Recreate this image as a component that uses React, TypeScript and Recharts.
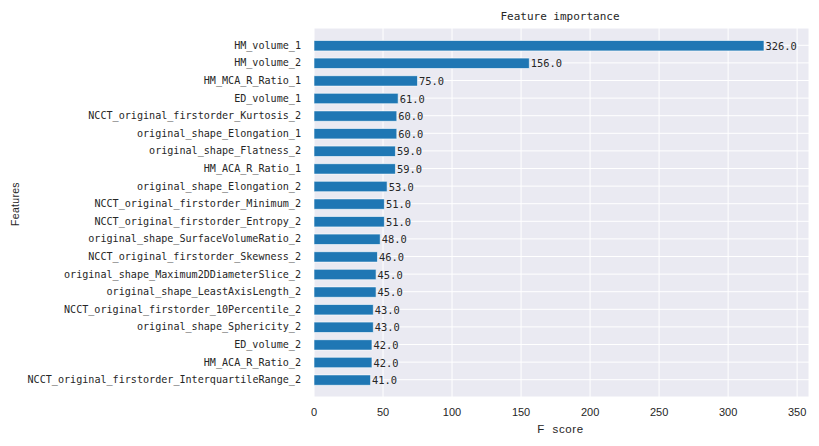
import React from 'react';
import { BarChart, Bar, XAxis, YAxis, CartesianGrid, LabelList, Label } from 'recharts';

const featureNames = [
  'HM_volume_1',
  'HM_volume_2',
  'HM_MCA_R_Ratio_1',
  'ED_volume_1',
  'NCCT_original_firstorder_Kurtosis_2',
  'original_shape_Elongation_1',
  'original_shape_Flatness_2',
  'HM_ACA_R_Ratio_1',
  'original_shape_Elongation_2',
  'NCCT_original_firstorder_Minimum_2',
  'NCCT_original_firstorder_Entropy_2',
  'original_shape_SurfaceVolumeRatio_2',
  'NCCT_original_firstorder_Skewness_2',
  'original_shape_Maximum2DDiameterSlice_2',
  'original_shape_LeastAxisLength_2',
  'NCCT_original_firstorder_10Percentile_2',
  'original_shape_Sphericity_2',
  'ED_volume_2',
  'HM_ACA_R_Ratio_2',
  'NCCT_original_firstorder_InterquartileRange_2',
];

const fScores = [326, 156, 75, 61, 60, 60, 59, 59, 53, 51, 51, 48, 46, 45, 45, 43, 43, 42, 42, 41];

const xTicks = [0, 50, 100, 150, 200, 250, 300, 350];
const xMax = 358.6;

const data = featureNames.map((name, i) => ({ name, score: fScores[i] }));

const MONO = '"DejaVu Sans Mono", monospace';
const SANS = '"Liberation Sans", Arial, sans-serif';
const TEXT = '#262626';

const ValueLabel = (props: any) => {
  const { x, y, width, height, value } = props;
  return (
    <text
      x={x + width + 1.5}
      y={y + height / 2}
      dominantBaseline="central"
      fontFamily={MONO}
      fontSize={10.4}
      fill={TEXT}
    >
      {Number(value).toFixed(1)}
    </text>
  );
};

export default function App() {
  return (
    <div style={{ position: 'absolute', left: 0, top: 0, width: 819, height: 446, background: '#fff' }}>
      <BarChart
        width={819}
        height={446}
        data={data}
        layout="vertical"
        margin={{ top: 28, right: 10, bottom: 0, left: 0 }}
        barCategoryGap={0}
      >
        <CartesianGrid stroke="#ffffff" strokeWidth={1} fill="#EAEAF2" fillOpacity={1} />
        <text x={560} y={19.5} textAnchor="middle" fontFamily={MONO} fontSize={11} fill={TEXT}>
          Feature importance
        </text>
        <XAxis
          type="number"
          domain={[0, xMax]}
          ticks={xTicks}
          allowDataOverflow
          axisLine={false}
          tickLine={false}
          tickSize={6}
          tickMargin={5}
          height={49}
          tick={{ fontFamily: SANS, fontSize: 11, fill: TEXT }}
        >
          <Label
            content={() => (
              <text x={560.5} y={433} textAnchor="middle" fontFamily={SANS} fontSize={11.5} fill={TEXT} style={{ whiteSpace: 'pre' }} letterSpacing={0.6}>
                {'F  score'}
              </text>
            )}
          />
        </XAxis>
        <YAxis
          type="category"
          dataKey="name"
          width={314}
          axisLine={false}
          tickLine={false}
          tickSize={6}
          tickMargin={7}
          interval={0}
          padding={{ top: 8.5, bottom: 8.5 }}
          tick={{ fontFamily: MONO, fontSize: 10.1, fill: TEXT }}
        >
          <Label
            content={() => (
              <text
                x={18.5}
                y={204}
                textAnchor="middle"
                transform="rotate(-90 18.5 204)"
                fontFamily={SANS}
                fontSize={10.5}
                fill={TEXT}
                letterSpacing={0.3}
              >
                Features
              </text>
            )}
          />
        </YAxis>
        <Bar dataKey="score" fill="#1f77b4" stroke="#ffffff" strokeWidth={0.6} barSize={10.4} isAnimationActive={false}>
          <LabelList dataKey="score" content={ValueLabel} />
        </Bar>
      </BarChart>
    </div>
  );
}
